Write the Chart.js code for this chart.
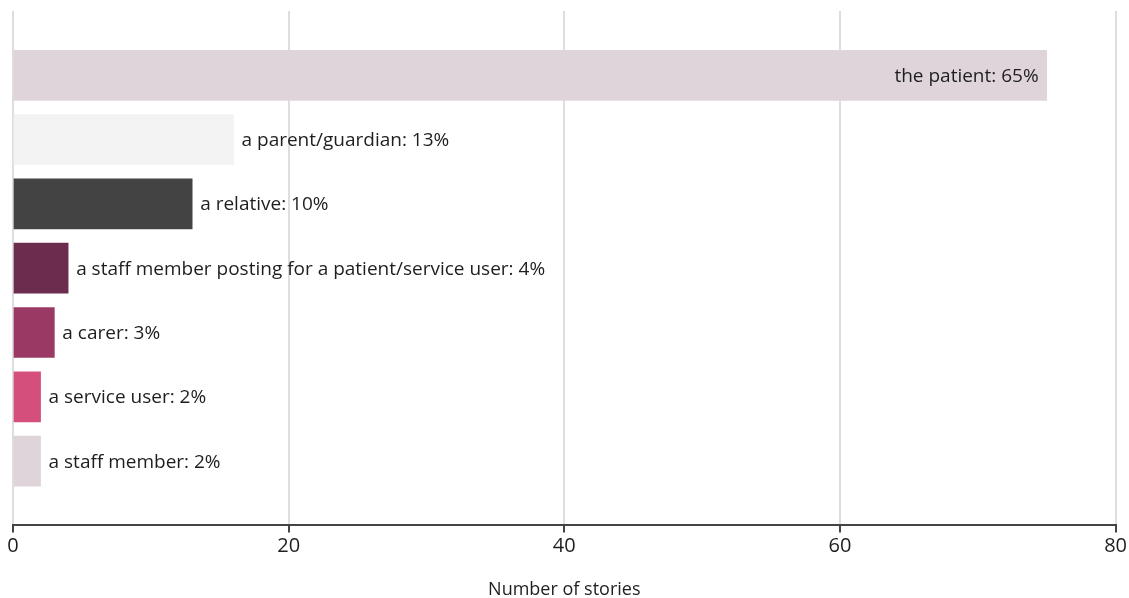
<!DOCTYPE html>
<html>
<head>
<meta charset="utf-8">
<script src="https://cdn.jsdelivr.net/npm/chart.js@4/dist/chart.umd.min.js"></script>
<style>
  html, body { margin: 0; padding: 0; background: #ffffff; }
  #wrap { width: 1129px; height: 598px; position: relative; }
</style>
</head>
<body>
<div id="wrap"><canvas id="c"></canvas></div>
<script>
// Who posted the stories
const categories = [
  'the patient',
  'a parent/guardian',
  'a relative',
  'a staff member posting for a patient/service user',
  'a carer',
  'a service user',
  'a staff member'
];
const storyCounts = [75, 16, 13, 4, 3, 2, 2];
const shareLabels = ['65%', '13%', '10%', '4%', '3%', '2%', '2%'];
const barColors = ['#e0d4db', '#f3f3f3', '#434343', '#6c2c4e', '#9a3a64', '#d44f7c', '#e0d4db'];
const xTicks = [0, 20, 40, 60, 80];

// one empty slot above and below so the bars sit on whole steps of the axis
const slotLabels = [''].concat(categories, ['']);
const slotValues = [null].concat(storyCounts, [null]);
const slotColors = ['#fff'].concat(barColors, ['#fff']);

const FONT = '"Open Sans", sans-serif';

// "name: share" next to each bar; moved inside the bar when it would run past the plot
const barLabels = {
  id: 'barLabels',
  afterDatasetsDraw(chart) {
    const ctx = chart.ctx;
    const meta = chart.getDatasetMeta(0);
    const right = chart.chartArea.right;
    ctx.save();
    ctx.font = '19px ' + FONT;
    ctx.fillStyle = '#1e1e1e';
    ctx.textBaseline = 'middle';
    categories.forEach((name, i) => {
      const bar = meta.data[i + 1];
      const text = name + ': ' + shareLabels[i];
      const w = ctx.measureText(text).width;
      if (bar.x + 8 + w > right) {
        ctx.textAlign = 'right';
        ctx.fillText(text, bar.x - 8, bar.y + 1);
      } else {
        ctx.textAlign = 'left';
        ctx.fillText(text, bar.x + 8, bar.y + 1);
      }
    });
    ctx.restore();
  }
};

new Chart(document.getElementById('c'), {
  type: 'bar',
  data: {
    labels: slotLabels,
    datasets: [{
      data: slotValues,
      backgroundColor: slotColors,
      barThickness: 50,
      borderWidth: 0
    }]
  },
  options: {
    indexAxis: 'y',
    responsive: true,
    maintainAspectRatio: false,
    animation: false,
    layout: { padding: { top: 11, left: 13, right: 6, bottom: -3 } },
    plugins: { legend: { display: false }, tooltip: { enabled: false } },
    scales: {
      y: {
        display: false,
        offset: false
      },
      x: {
        min: 0,
        max: 80,
        afterBuildTicks(scale) { scale.ticks = xTicks.map(v => ({ value: v })); },
        grid: {
          color: '#dedede',
          lineWidth: 2,
          tickColor: '#444',
          tickLength: 7,
          drawTicks: true
        },
        border: { color: '#444', width: 2 },
        ticks: {
          color: '#1e1e1e',
          font: { family: FONT, size: 20 },
          padding: 2,
          maxRotation: 0
        },
        title: {
          display: true,
          text: 'Number of stories',
          color: '#1e1e1e',
          font: { family: FONT, size: 18 },
          padding: { top: 19, bottom: 0 }
        }
      }
    }
  },
  plugins: [barLabels]
});
</script>
</body>
</html>
